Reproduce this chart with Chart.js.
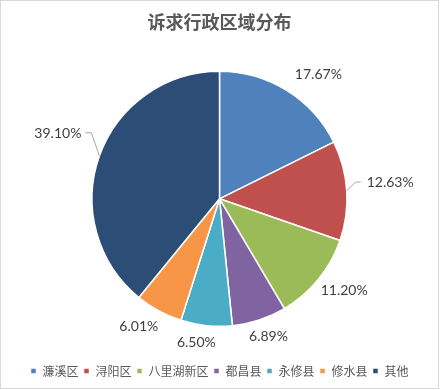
<!DOCTYPE html>
<html><head><meta charset="utf-8">
<script src="https://cdn.jsdelivr.net/npm/chart.js@4/dist/chart.umd.min.js"></script>
<style>html,body{margin:0;padding:0;background:#fff}#wrap{width:440px;height:390px;position:relative}</style>
</head><body>
<div id="wrap"><canvas id="c" width="440" height="390"></canvas></div>
<script>
const chartTitle = '诉求行政区域分布';
const categories = ['濂溪区','浔阳区','八里湖新区','都昌县','永修县','修水县','其他'];
const shares = [17.67, 12.63, 11.20, 6.89, 6.50, 6.01, 39.10];
const sliceColors = ['#4F81BD','#C0504D','#9BBB59','#8064A2','#4BACC6','#F79646','#2C4D75'];

const frame = {
  id: 'frame',
  beforeDraw(chart) {
    const ctx = chart.ctx;
    ctx.save();
    ctx.fillStyle = '#fff';
    ctx.fillRect(0, 0, chart.width, chart.height);
    ctx.strokeStyle = '#D9D9D9';
    ctx.lineWidth = 1;
    ctx.strokeRect(0.5, 0.5, 438, 388);
    ctx.restore();
  }
};

const pieLabels = {
  id: 'pieLabels',
  afterDatasetsDraw(chart, args, opts) {
    const ctx = chart.ctx;
    const meta = chart.getDatasetMeta(0);
    ctx.save();
    ctx.font = '14px Lato, "Liberation Sans", sans-serif';
    ctx.fillStyle = '#404040';
    ctx.textAlign = 'center';
    ctx.textBaseline = 'middle';
    meta.data.forEach((arc, i) => {
      const p = arc.getProps(['x','y','startAngle','endAngle','outerRadius'], true);
      const m = (p.startAngle + p.endAngle) / 2;
      const c = Math.cos(m), s = Math.sin(m);
      const ex = p.x + p.outerRadius * c, ey = p.y + p.outerRadius * s;
      const txt = shares[i].toFixed(2) + '%';
      const w = ctx.measureText(txt).width, h = 14;
      const d = 10;
      const nudge = opts.nudge[i] || [0, 0];
      const lx = ex + d * c + (w / 2) * c + nudge[0];
      const ly = ey + d * s + (h / 2) * s + nudge[1];
      ctx.fillText(txt, lx, ly);
      if (opts.leader[i]) {
        ctx.strokeStyle = '#A6A6A6';
        ctx.lineWidth = 1;
        ctx.beginPath();
        if (lx > p.x) {
          const left = lx - w / 2;
          ctx.moveTo(left - 6, ly - 0.5);
          ctx.lineTo(left - 11, ly - 0.5);
        } else {
          const right = lx + w / 2;
          ctx.moveTo(right + 4, ly - 0.5);
          ctx.lineTo(right + 10, ly - 0.5);
        }
        ctx.lineTo(ex, ey);
        ctx.stroke();
      }
    });
    ctx.restore();
  }
};

new Chart(document.getElementById('c'), {
  type: 'pie',
  data: {
    labels: categories,
    datasets: [{
      data: shares,
      backgroundColor: sliceColors,
      borderColor: '#ffffff',
      borderWidth: 1.5,
      hoverOffset: 0,
      radius: 127.5
    }]
  },
  options: {
    responsive: false,
    animation: false,
    devicePixelRatio: 1,
    layout: { padding: { left: 0, right: 1, top: 0, bottom: 3 } },
    plugins: {
      title: {
        display: true,
        text: chartTitle,
        color: '#595959',
        font: { family: '"Noto Sans CJK SC", sans-serif', size: 18, weight: 'bold' },
        padding: { top: 11, bottom: 5 }
      },
      legend: {
        display: true,
        position: 'bottom',
        labels: {
          color: '#595959',
          font: { family: '"Noto Sans CJK SC", sans-serif', size: 12 },
          boxWidth: 6,
          boxHeight: 6,
          padding: 5
        }
      },
      tooltip: { enabled: false },
      pieLabels: {
        nudge: [[14,-2],[10,-7],[0,0],[0,0],[-7,0],[-6,1],[-10,-17]],
        leader: [false,true,false,false,false,false,true]
      }
    }
  },
  plugins: [frame, pieLabels]
});
</script>
</body></html>
